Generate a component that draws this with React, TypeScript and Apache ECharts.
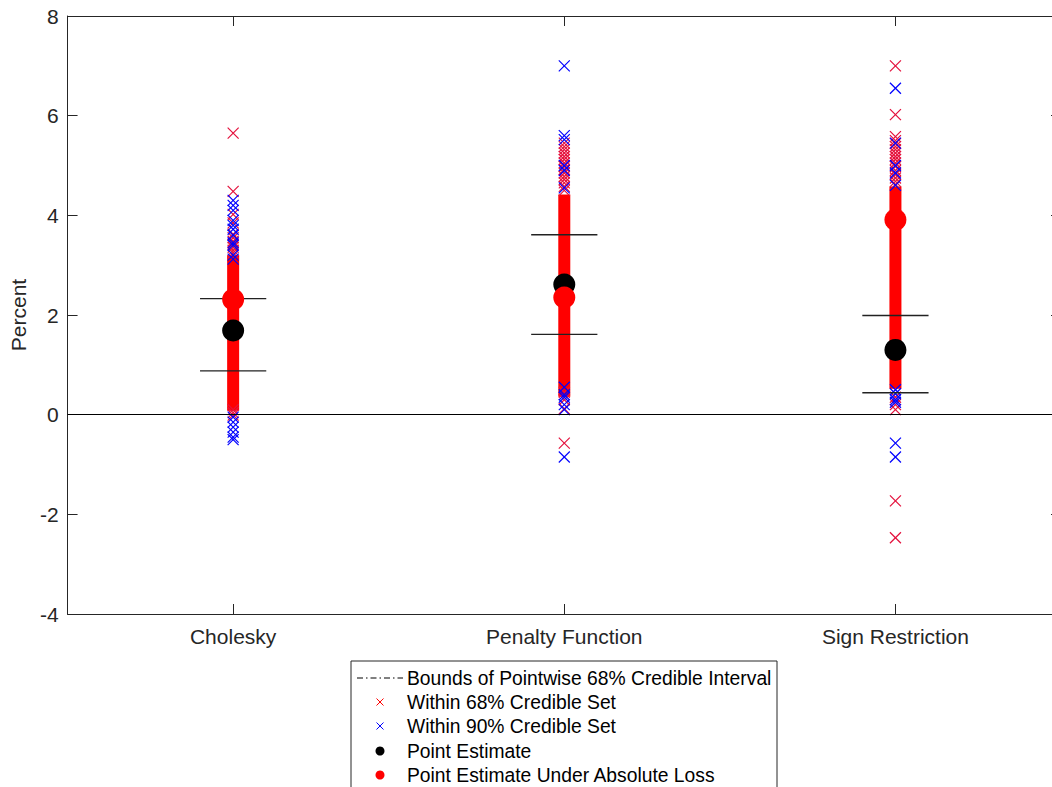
import React, { useEffect, useRef } from "react";
import * as echarts from "echarts";

const categories = ["Cholesky", "Penalty Function", "Sign Restriction"];
const yTicks = [-4, -2, 0, 2, 4, 6, 8];

const pointEstimate = [1.69, 2.61, 1.3];
const absLossEstimate = [2.31, 2.35, 3.91];
const boundUpper = [2.33, 3.61, 1.99];
const boundLower = [0.88, 1.61, 0.44];

// dense mass of the 68% credible set draws (low, high)
const denseLow = [0.08, 0.36, 0.52];
const denseHigh = [3.2, 4.42, 4.58];

// individual draws outside the dense mass
const red68Cholesky = [5.65, 4.48, 4.02, 3.85, 3.62, 3.55, 3.48, 3.42, 3.36, 3.3, 3.25, 0.1, 0.04, -0.01];
const red68Penalty = [5.45, 5.38, 5.32, 5.25, 5.18, 5.12, 5.05, 4.98, 4.92, 4.85, 4.78, 4.72, 4.65, 4.58, 4.5, 0.45, 0.3, 0.12, -0.57];
const red68Sign = [7.0, 6.02, 5.58, 5.5, 5.44, 5.38, 5.32, 5.25, 5.18, 5.12, 5.05, 4.98, 4.9, 4.82, 4.75, 4.68, 4.62, 0.35, 0.2, 0.1, -1.73, -2.47];

const blue90Cholesky = [4.3, 4.2, 4.1, 3.9, 3.8, 3.72, 3.6, 3.45, 3.4, 3.2, 3.12, -0.05, -0.15, -0.25, -0.35, -0.45, -0.5];
const blue90Penalty = [7.0, 5.6, 5.52, 5.0, 4.9, 4.55, 0.55, 0.4, 0.35, 0.2, 0.1, -0.85];
const blue90Sign = [6.55, 5.45, 5.0, 4.85, 4.6, 0.5, 0.42, 0.3, 0.25, -0.57, -0.85];

const legendLabels = [
  "Bounds of Pointwise 68% Credible Interval",
  "Within 68% Credible Set",
  "Within 90% Credible Set",
  "Point Estimate",
  "Point Estimate Under Absolute Loss",
];

const FONT = "Liberation Sans, Arial, Helvetica, sans-serif";
const AXIS_COLOR = "#262626";
const RED_X = "rgb(228,16,60)";
const BLUE_X = "#0000ff";

function toPoints(lists: number[][]) {
  const out: number[][] = [];
  lists.forEach((vals, i) => vals.forEach((v) => out.push([i + 1, v])));
  return out;
}

function crossSeries(data: number[][], color: string, z: number) {
  return {
    type: "custom",
    data,
    z,
    renderItem: (params: any, api: any) => {
      const p = api.coord([api.value(0), api.value(1)]);
      const s = 5.5;
      return {
        type: "group",
        children: [
          { type: "line", shape: { x1: p[0] - s, y1: p[1] - s, x2: p[0] + s, y2: p[1] + s }, style: { stroke: color, lineWidth: 1.2 } },
          { type: "line", shape: { x1: p[0] - s, y1: p[1] + s, x2: p[0] + s, y2: p[1] - s }, style: { stroke: color, lineWidth: 1.2 } },
        ],
      };
    },
  };
}

export default function App() {
  const ref = useRef<HTMLDivElement>(null);
  useEffect(() => {
    if (!ref.current) return;
    const chart = echarts.init(ref.current, null, { renderer: "svg" });

    const bandData = categories.map((_, i) => [i + 1, denseLow[i], denseHigh[i]]);
    const boundData: number[][] = [];
    categories.forEach((_, i) => {
      boundData.push([i + 1, boundUpper[i]]);
      boundData.push([i + 1, boundLower[i]]);
    });

    const legendX = 351;
    const legendY = 661;
    const rowY = [678, 702, 726, 751, 775];
    const iconX = 380;
    const textX = 407;
    const crossLines = (cy: number, color: string) => [
      { type: "line", z: 11, shape: { x1: iconX - 3.5, y1: cy - 3.5, x2: iconX + 3.5, y2: cy + 3.5 }, style: { stroke: color, lineWidth: 1 } },
      { type: "line", z: 11, shape: { x1: iconX - 3.5, y1: cy + 3.5, x2: iconX + 3.5, y2: cy - 3.5 }, style: { stroke: color, lineWidth: 1 } },
    ];

    const legendGraphics: any[] = [
      { type: "rect", shape: { x: legendX, y: legendY, width: 426, height: 140 }, style: { fill: "#fff", stroke: AXIS_COLOR, lineWidth: 1 }, z: 10 },
      { type: "line", shape: { x1: 357, y1: rowY[0], x2: 403, y2: rowY[0] }, style: { stroke: "#000", lineWidth: 1, lineDash: [6, 3, 1.5, 3] }, z: 11 },
      ...crossLines(rowY[1], "#ff0000"),
      ...crossLines(rowY[2], BLUE_X),
      { type: "circle", shape: { cx: iconX, cy: rowY[3], r: 4.5 }, style: { fill: "#000" }, z: 11 },
      { type: "circle", shape: { cx: iconX, cy: rowY[4], r: 4.5 }, style: { fill: "#ff0000" }, z: 11 },
      ...legendLabels.map((t, i) => ({
        type: "text",
        x: textX,
        y: rowY[i],
        z: 11,
        style: { text: t, font: `19.3px ${FONT}`, fill: "#000", verticalAlign: "middle" },
      })),
    ];

    const axisCommon = { min: -4, max: 8, interval: 2 };
    const tickFont = 21;

    chart.setOption({
      animation: false,
      backgroundColor: "#fff",
      grid: { left: 65, top: 16, right: 0, bottom: 173, containLabel: false },
      xAxis: [
        {
          type: "value",
          min: 0.5,
          max: 3.5,
          position: "bottom",
          axisLine: { show: true, onZero: false, lineStyle: { color: AXIS_COLOR, width: 1 } },
          axisTick: { show: true, inside: true, length: 10, customValues: [1, 2, 3], lineStyle: { color: AXIS_COLOR } },
          axisLabel: {
            show: true,
            customValues: [1, 2, 3],
            margin: 12,
            fontSize: tickFont,
            fontFamily: FONT,
            color: AXIS_COLOR,
            formatter: (v: number) => categories[Math.round(v) - 1] ?? "",
          },
          splitLine: { show: false },
        },
        {
          type: "value",
          min: 0.5,
          max: 3.5,
          position: "top",
          axisLine: { show: true, onZero: false, lineStyle: { color: AXIS_COLOR, width: 1 } },
          axisTick: { show: true, inside: true, length: 10, customValues: [1, 2, 3], lineStyle: { color: AXIS_COLOR } },
          axisLabel: { show: false },
          splitLine: { show: false },
        },
      ],
      yAxis: [
        {
          type: "value",
          ...axisCommon,
          position: "left",
          name: "Percent",
          nameLocation: "middle",
          nameGap: 35,
          nameRotate: 90,
          nameTextStyle: { fontSize: tickFont, fontFamily: FONT, color: AXIS_COLOR },
          axisLine: { show: true, onZero: false, lineStyle: { color: AXIS_COLOR, width: 1 } },
          axisTick: { show: true, inside: true, length: 10, lineStyle: { color: AXIS_COLOR } },
          axisLabel: {
            fontSize: tickFont,
            fontFamily: FONT,
            color: AXIS_COLOR,
            margin: 9,
            formatter: (v: number) => (yTicks.includes(v) ? String(v) : ""),
          },
          splitLine: { show: false },
        },
        {
          type: "value",
          ...axisCommon,
          position: "right",
          axisLine: { show: true, onZero: false, lineStyle: { color: AXIS_COLOR, width: 1 } },
          axisTick: { show: true, inside: true, length: 10, lineStyle: { color: AXIS_COLOR } },
          axisLabel: { show: false },
          splitLine: { show: false },
        },
      ],
      series: [
        {
          type: "custom",
          data: bandData,
          z: 2,
          renderItem: (params: any, api: any) => {
            const lo = api.coord([api.value(0), api.value(1)]);
            const hi = api.coord([api.value(0), api.value(2)]);
            return {
              type: "rect",
              shape: { x: lo[0] - 6, y: hi[1], width: 12, height: lo[1] - hi[1] },
              style: { fill: "#ff0000" },
            };
          },
          markLine: {
            silent: true,
            symbol: "none",
            label: { show: false },
            lineStyle: { color: "#000", width: 1.2, type: "solid" },
            data: [{ yAxis: 0 }],
          },
        },
        {
          type: "custom",
          data: boundData,
          z: 4,
          renderItem: (params: any, api: any) => {
            const a = api.coord([api.value(0) - 0.1, api.value(1)]);
            const b = api.coord([api.value(0) + 0.1, api.value(1)]);
            return {
              type: "line",
              shape: { x1: a[0], y1: a[1], x2: b[0], y2: b[1] },
              style: { stroke: "#222", lineWidth: 1.3 },
            };
          },
        },
        crossSeries(toPoints([red68Cholesky, red68Penalty, red68Sign]), RED_X, 3),
        crossSeries(toPoints([blue90Cholesky, blue90Penalty, blue90Sign]), BLUE_X, 3.5),
        {
          type: "scatter",
          data: pointEstimate.map((v, i) => [i + 1, v]),
          symbol: "circle",
          symbolSize: 22,
          z: 5,
          itemStyle: { color: "#000", opacity: 1 },
        },
        {
          type: "scatter",
          data: absLossEstimate.map((v, i) => [i + 1, v]),
          symbol: "circle",
          symbolSize: 22,
          z: 6,
          itemStyle: { color: "#ff0000", opacity: 1 },
        },
      ],
      graphic: legendGraphics,
    });

    return () => chart.dispose();
  }, []);

  return (
    <div style={{ position: "absolute", left: 0, top: 0, width: 1052, height: 787, background: "#fff", overflow: "hidden" }}>
      <div ref={ref} style={{ position: "absolute", left: 0, top: 0, width: 1061, height: 787 }} />
    </div>
  );
}
